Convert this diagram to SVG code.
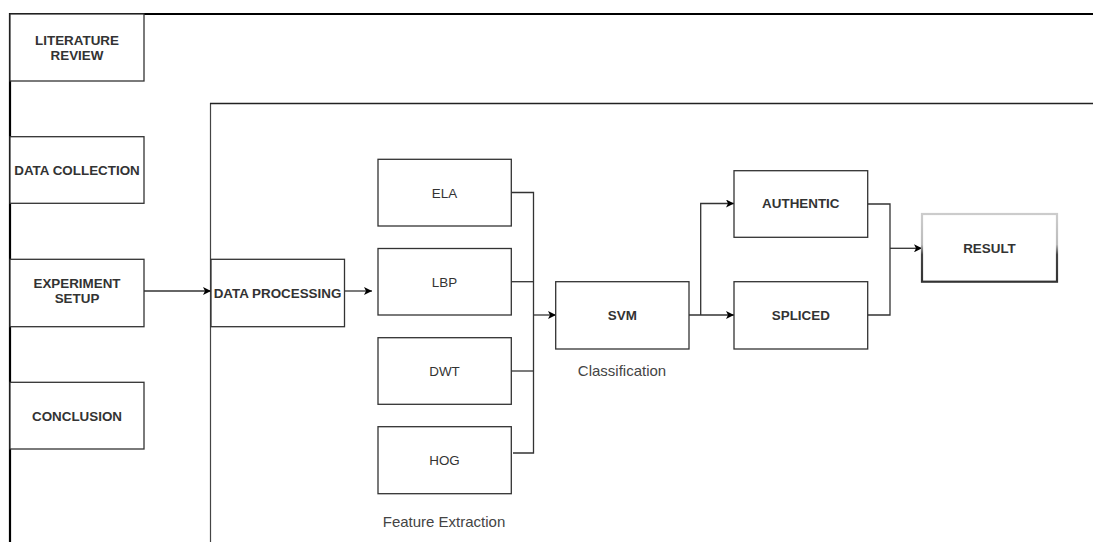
<svg xmlns="http://www.w3.org/2000/svg" width="1093" height="542" viewBox="0 0 1093 542">
<style>
.box{fill:#fff;stroke:#333;stroke-width:1.3}
.lb{font-family:"Liberation Sans",Arial,sans-serif;font-size:13.4px;font-weight:bold;fill:#333;text-anchor:middle}
.lr{font-family:"Liberation Sans",Arial,sans-serif;font-size:13.4px;fill:#333;text-anchor:middle}
.cap{font-family:"Liberation Sans",Arial,sans-serif;font-size:15px;fill:#444;text-anchor:middle}
.con{fill:none;stroke:#333;stroke-width:1.3}
</style>
<defs>
<marker id="ah" viewBox="0 0 10 10" refX="10" refY="5" markerWidth="8" markerHeight="8" markerUnits="userSpaceOnUse" orient="auto">
<path d="M0,0 L10,5 L0,10 L2.5,5 Z" fill="#000"/>
</marker>
<linearGradient id="rg" x1="0" y1="0" x2="0" y2="1">
<stop offset="0" stop-color="#ccc"/>
<stop offset="0.45" stop-color="#bbb"/>
<stop offset="0.6" stop-color="#444"/>
<stop offset="1" stop-color="#333"/>
</linearGradient>
</defs>
<rect width="1093" height="542" fill="#fff"/>
<g id="frames">
<path d="M1093,14 H10 V542" fill="none" stroke="#000" stroke-width="2.2"/>
<path d="M1093,103.5 H210.5 V542" fill="none" stroke="#444" stroke-width="1.2"/>
<line x1="210" y1="103.5" x2="1093" y2="103.5" stroke="#222" stroke-width="1.6"/>
</g>
<g id="connectors">
<line class="con" x1="144" y1="291" x2="211" y2="291" marker-end="url(#ah)"/>
<line class="con" x1="344" y1="291" x2="372" y2="291" marker-end="url(#ah)"/>
<path class="con" d="M511,192.5 H533.5 V453 H513"/>
<line class="con" x1="511" y1="281.7" x2="533.5" y2="281.7"/>
<line class="con" x1="511" y1="371" x2="533.5" y2="371"/>
<line class="con" x1="533.5" y1="315" x2="556" y2="315" marker-end="url(#ah)"/>
<line class="con" x1="689" y1="315" x2="734" y2="315" marker-end="url(#ah)"/>
<path class="con" d="M700.7,315 V203.5 H734" marker-end="url(#ah)"/>
<path class="con" d="M868,204 H890 V315 H868"/>
<line class="con" x1="890" y1="248.3" x2="922" y2="248.3" marker-end="url(#ah)"/>
</g>
<g id="literature-review"><rect class="box" x="10" y="14" width="134" height="67"/><text class="lb" x="77" y="45">LITERATURE</text><text class="lb" x="77" y="60">REVIEW</text></g>
<g id="data-collection"><rect class="box" x="10" y="136.7" width="134" height="66.6"/><text class="lb" x="77" y="174.5">DATA COLLECTION</text></g>
<g id="experiment-setup"><rect class="box" x="10" y="259.3" width="134" height="67.4"/><text class="lb" x="77" y="288">EXPERIMENT</text><text class="lb" x="77" y="303">SETUP</text></g>
<g id="conclusion"><rect class="box" x="10" y="382.3" width="134" height="66.7"/><text class="lb" x="77" y="420.5">CONCLUSION</text></g>
<g id="data-processing"><rect class="box" x="211" y="259.3" width="133.5" height="67.4"/><text class="lb" x="277.5" y="297.5">DATA PROCESSING</text></g>
<g id="ela"><rect class="box" x="378" y="159.3" width="133.3" height="66.7"/><text class="lr" x="444.5" y="197.5">ELA</text></g>
<g id="lbp"><rect class="box" x="378" y="248.5" width="133.3" height="66.5"/><text class="lr" x="444.5" y="286.5">LBP</text></g>
<g id="dwt"><rect class="box" x="378" y="337.7" width="133.3" height="66.6"/><text class="lr" x="444.5" y="375.5">DWT</text></g>
<g id="hog"><rect class="box" x="378" y="426.7" width="133.3" height="67"/><text class="lr" x="444.5" y="465">HOG</text></g>
<text class="cap" x="444" y="527">Feature Extraction</text>
<g id="svm"><rect class="box" x="555.7" y="281.7" width="133.3" height="67.3"/><text class="lb" x="622.3" y="320">SVM</text></g>
<text class="cap" x="622" y="376">Classification</text>
<g id="authentic"><rect class="box" x="734" y="170.7" width="133.7" height="66.6"/><text class="lb" x="800.8" y="208">AUTHENTIC</text></g>
<g id="spliced"><rect class="box" x="734" y="281.7" width="133.7" height="67.3"/><text class="lb" x="800.8" y="320">SPLICED</text></g>
<g id="result"><rect x="922" y="214" width="135" height="67.7" fill="#fff" stroke="url(#rg)" stroke-width="2.2"/><text class="lb" x="989.5" y="253">RESULT</text></g>
</svg>
